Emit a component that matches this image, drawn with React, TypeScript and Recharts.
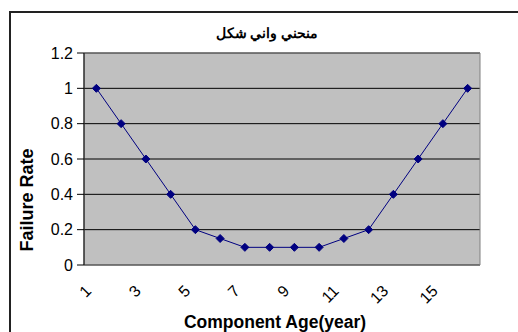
import React from 'react';
import {
  LineChart, Line, XAxis, YAxis, CartesianGrid, ReferenceArea,
} from 'recharts';

const ages = [1, 2, 3, 4, 5, 6, 7, 8, 9, 10, 11, 12, 13, 14, 15, 16];
const failureRate = [1, 0.8, 0.6, 0.4, 0.2, 0.15, 0.1, 0.1, 0.1, 0.1, 0.15, 0.2, 0.4, 0.6, 0.8, 1];
const labelTicks = [1, 3, 5, 7, 9, 11, 13, 15];
const boundaryTicks = [0.5, 1.5, 2.5, 3.5, 4.5, 5.5, 6.5, 7.5, 8.5, 9.5, 10.5, 11.5, 12.5, 13.5, 14.5, 15.5, 16.5];
const rateTicks = [0, 0.2, 0.4, 0.6, 0.8, 1, 1.2];

const title = 'منحني واني شكل';
const xTitle = 'Component Age(year)';
const yTitle = 'Failure Rate';

const data = ages.map((age, i) => ({ age, rate: failureRate[i] }));

const FONT = '"Liberation Sans", Arial, sans-serif';

const Diamond = (props: any) => {
  const { cx, cy } = props;
  if (cx == null || cy == null) return <g />;
  const r = 4;
  return (
    <polygon
      points={`${cx},${cy - r} ${cx + r},${cy} ${cx},${cy + r} ${cx - r},${cy}`}
      fill="#000080"
      stroke="#000080"
    />
  );
};

// rotated category labels, end of text sits just below-left of the category
const AgeTick = (props: any) => {
  const { x, y, payload } = props;
  const tx = x - 4;
  const ty = y + 27;
  return (
    <text
      x={tx}
      y={ty}
      transform={`rotate(-45, ${tx}, ${ty})`}
      textAnchor="end"
      fontSize={16}
      fontFamily={FONT}
      fill="#000"
    >
      {payload.value}
    </text>
  );
};

const NoTick = () => <g />;

export default function App() {
  return (
    <div style={{ position: 'relative', width: 518, height: 332, background: '#fff', fontFamily: FONT }}>
      <style>{'body{margin:0}'}</style>
      <div style={{ position: 'absolute', left: 9, top: 11, right: 0, bottom: 0, borderTop: '2px solid #222', borderLeft: '2px solid #222' }} />
      <LineChart
        width={518}
        height={332}
        data={data}
        margin={{ top: 53, right: 38, left: 0, bottom: 0 }}
      >
        <CartesianGrid vertical={false} stroke="#000" fill="#C0C0C0" fillOpacity={1} />
        <ReferenceArea
          xAxisId="a"
          x1={0.5}
          x2={16.5}
          y1={0}
          y2={1.2}
          fill="none"
          stroke="#808080"
          strokeWidth={1}
          ifOverflow="visible"
        />
        <XAxis
          xAxisId="b"
          type="number"
          dataKey="age"
          domain={[0.5, 16.5]}
          ticks={boundaryTicks}
          tick={NoTick}
          height={0}
          tickSize={5}
          stroke="#000"
          axisLine={{ stroke: '#000' }}
          tickLine={{ stroke: '#000' }}
        />
        <XAxis
          xAxisId="a"
          type="number"
          dataKey="age"
          domain={[0.5, 16.5]}
          ticks={labelTicks}
          tick={AgeTick}
          interval={0}
          height={67}
          tickSize={0}
          tickMargin={0}
          axisLine={false}
          tickLine={false}
        />
        <YAxis
          type="number"
          domain={[0, 1.2]}
          ticks={rateTicks}
          width={84}
          tickSize={7}
          tickMargin={4}
          stroke="#000"
          tick={{ fill: '#000', fontSize: 16, fontFamily: FONT }}
        />
        <Line
          xAxisId="a"
          type="linear"
          dataKey="rate"
          stroke="#000080"
          strokeWidth={1}
          dot={<Diamond />}
          activeDot={false}
          isAnimationActive={false}
        />
      </LineChart>
      <div style={{ position: 'absolute', left: 167, width: 200, top: 25, textAlign: 'center', fontWeight: 'bold', fontSize: 14, direction: 'rtl', lineHeight: '16px' }}>
        {title}
      </div>
      <div style={{ position: 'absolute', left: 27, top: 200, transform: 'translate(-50%, -50%) rotate(-90deg)', whiteSpace: 'nowrap', fontWeight: 'bold', fontSize: 18 }}>
        {yTitle}
      </div>
      <div style={{ position: 'absolute', left: 275, top: 322, transform: 'translate(-50%, -50%)', whiteSpace: 'nowrap', fontWeight: 'bold', fontSize: 17.5 }}>
        {xTitle}
      </div>
    </div>
  );
}
